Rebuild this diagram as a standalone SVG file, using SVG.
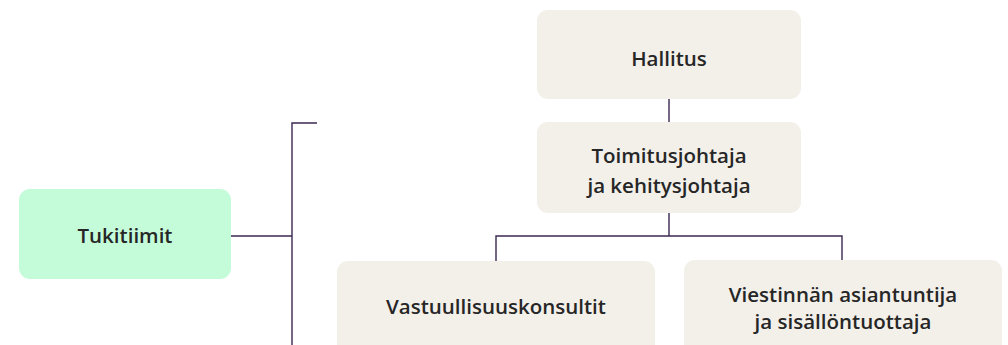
<svg xmlns="http://www.w3.org/2000/svg" width="1008" height="345" viewBox="0 0 1008 345">
<style>
.box{fill:#f3f0ea}
.green{fill:#c4fcda}
.t{font-family:"Open Sans","Liberation Sans",sans-serif;font-weight:600;font-size:20.5px;fill:#262626;text-anchor:middle}
.c{fill:none;stroke:#3b2850;stroke-width:1.4}
</style>
<rect width="1008" height="345" fill="#ffffff"/>
<g id="connectors">
<path class="c" d="M669 99V122"/>
<path class="c" d="M669 213V236M496 261V236H842V261"/>
<path class="c" d="M231 236H292M317 123H292V345"/>
</g>
<g id="hallitus">
<rect class="box" x="537" y="10" width="264" height="89" rx="11"/>
<text class="t" x="669" y="66">Hallitus</text>
</g>
<g id="toimitusjohtaja">
<rect class="box" x="537" y="122" width="264" height="91" rx="11"/>
<text class="t" x="669" y="163">Toimitusjohtaja</text>
<text class="t" x="669" y="193">ja kehitysjohtaja</text>
</g>
<g id="tukitiimit">
<rect class="green" x="19" y="189" width="212" height="90" rx="11"/>
<text class="t" x="125" y="243">Tukitiimit</text>
</g>
<g id="vastuullisuuskonsultit">
<rect class="box" x="337" y="261" width="318" height="100" rx="11"/>
<text class="t" x="496" y="314">Vastuullisuuskonsultit</text>
</g>
<g id="viestinta">
<rect class="box" x="684" y="260" width="318" height="100" rx="11"/>
<text class="t" x="843" y="302">Viestinnän asiantuntija</text>
<text class="t" x="843" y="329">ja sisällöntuottaja</text>
</g>
</svg>
